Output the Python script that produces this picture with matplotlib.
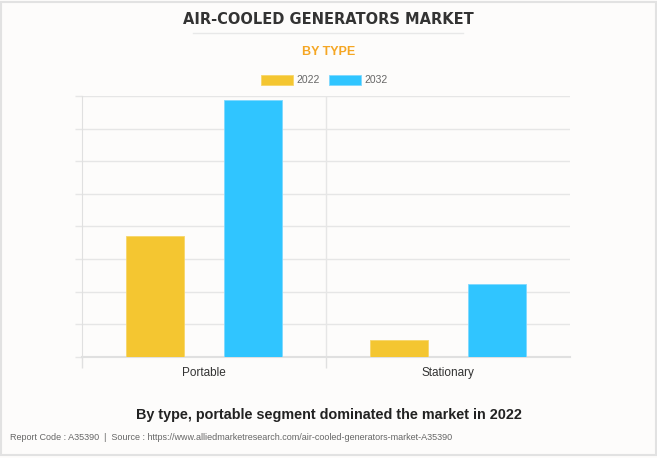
import matplotlib.pyplot as plt
import numpy as np
from matplotlib.patches import Rectangle

# Chart data
categories = ['Portable', 'Stationary']
years = ['2022', '2032']
values_2022 = [3.72, 0.53]
values_2032 = [7.88, 2.24]
colors = ['#f4c631', '#30c5ff']

bg = '#fdfcfb'
fig = plt.figure(figsize=(6.57, 4.58), dpi=100, facecolor=bg)

# border around the card
fig.patches.append(Rectangle((0.002, 0.006), 0.996, 0.99, transform=fig.transFigure,
                             fill=False, edgecolor='#e2e2e2', linewidth=1.5))

ax = fig.add_axes([82 / 657, 1 - 357 / 458, 488 / 657, 261 / 458], facecolor=bg)

x = np.arange(len(categories))
w = 0.237
ax.bar(x - 0.2, values_2022, w, color=colors[0], edgecolor='#f7d669', linewidth=0.6, label=years[0], zorder=3)
ax.bar(x + 0.2, values_2032, w, color=colors[1], edgecolor='#7fd8ff', linewidth=0.6, label=years[1], zorder=3)

ax.set_xlim(-0.5, 1.5)
ax.set_ylim(0, 8)
ax.set_yticks(np.arange(0, 9, 1))
ax.set_yticklabels([])
ax.tick_params(axis='y', length=5, color='#e6e6e6', width=1)
ax.grid(axis='y', color='#e6e6e6', linewidth=1, zorder=0)

# category boundaries as vertical lines
ax.set_xticks([-0.5, 0.5], minor=False)
ax.set_xticklabels([])
ax.tick_params(axis='x', length=8, color='#e0e0e0', width=1)
ax.axvline(0.5, color='#e6e6e6', linewidth=1, zorder=0)
ax.set_xticks(x, minor=True)
ax.set_xticklabels(categories, minor=True, fontsize=8.5, color='#333333', fontfamily='Liberation Sans')
ax.tick_params(axis='x', which='minor', length=0, pad=7)

for s in ['top', 'right']:
    ax.spines[s].set_visible(False)
ax.spines['left'].set_color('#e0e0e0')
ax.spines['bottom'].set_color('#e0e0e0')
ax.spines['bottom'].set_linewidth(1.5)

# titles
fig.text(0.5, 1 - 20 / 458, 'AIR-COOLED GENERATORS MARKET', ha='center', va='center',
         fontsize=10.5, fontweight='bold', color='#333333', fontfamily='DejaVu Sans')
fig.add_artist(plt.Line2D([193 / 657, 463 / 657], [1 - 33 / 458, 1 - 33 / 458],
                          color='#e8e8e8', linewidth=1))
fig.text(0.5, 1 - 52 / 458, 'BY TYPE', ha='center', va='center',
         fontsize=9, fontweight='bold', color='#f5a623', fontfamily='Liberation Sans')

leg = fig.legend(loc='center', bbox_to_anchor=(0.494, 1 - 80 / 458), ncol=2, frameon=False,
                 handlelength=3.07, handleheight=1.2, columnspacing=0.9,
                 handletextpad=0.35, prop={'family': 'Liberation Sans', 'size': 7.5})
for t in leg.get_texts():
    t.set_color('#666666')

fig.text(0.5, 1 - 415 / 458, 'By type, portable segment dominated the market in 2022',
         ha='center', va='center', fontsize=10.4, fontweight='bold', color='#222222',
         fontfamily='Liberation Sans')
fig.text(10 / 657, 1 - 438 / 458,
         'Report Code : A35390  |  Source : https://www.alliedmarketresearch.com/air-cooled-generators-market-A35390',
         ha='left', va='center', fontsize=6.5, color='#666666', fontfamily='Liberation Sans')

plt.savefig('out.png', dpi=100, facecolor=bg)
